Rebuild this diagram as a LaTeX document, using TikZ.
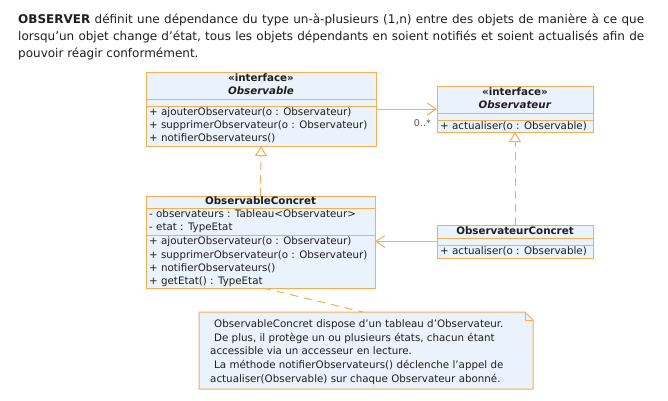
\documentclass[tikz,border=0pt]{standalone}
\usepackage{fontspec}
\setmainfont{DejaVu Sans}
\newfontfamily\hdrfont{DejaVu Sans}
\usetikzlibrary{arrows.meta,calc}
\definecolor{umlorange}{RGB}{247,172,86}
\definecolor{umlfill}{RGB}{234,243,251}
\definecolor{umltext}{RGB}{30,30,30}
\tikzset{
  umlbox/.style={draw=umlorange, fill=umlfill, line width=1pt, inner sep=0pt, outer sep=0pt, anchor=north west},
  sect/.style={draw=umlorange, line width=1pt},
  txt/.style={inner sep=0pt, font=\fontsize{10.3}{12}\selectfont, text=umltext, text height=7.5pt, text depth=2pt},
  hdr/.style={anchor=base west, inner sep=0pt, text=umltext, font=\hdrfont\fontsize{12}{17}\selectfont},
  assoc/.style={draw=umlorange, line width=1pt, -{Straight Barb[length=9pt,width=12pt,line width=1pt]}},
  realiz/.style={draw=umlorange, line width=1pt, dash pattern=on 8pt off 5pt, -{Triangle[open,length=10pt,width=12pt,line width=1pt,fill=white]}},
  notelink/.style={draw=umlorange, line width=1pt, dash pattern=on 8pt off 6pt},
}
\begin{document}
\begin{tikzpicture}[x=1pt,y=-1pt]
\useasboundingbox (0,0) rectangle (668,400);
% header paragraph
\node[hdr] (hdr1) at (18,23)
  {\makebox[626pt][s]{\textbf{OBSERVER} définit une dépendance du type un-à-plusieurs (1,n) entre des objets de manière à ce que}};
\node[hdr] (hdr2) at (18,40)
  {\makebox[626pt][s]{lorsqu’un objet change d’état, tous les objets dépendants en soient notifiés et soient actualisés afin de}};
\node[hdr] (hdr3) at (18,57)
  {pouvoir réagir conformément.};

% Observable
\node[umlbox, minimum width=230pt, minimum height=74pt] (obs) at (146,72) {};
\draw[sect] (146,99.5) -- (376,99.5);
\draw[sect] (146,106.5) -- (376,106.5);
\node[txt] (obs1) at (261,79) {\textbf{«interface»}};
\node[txt] (obs2) at (261,92) {\textbf{\textit{Observable}}};
\node[txt, anchor=west] (obsm1) at (149,113) {+ ajouterObservateur(o : Observateur)};
\node[txt, anchor=west] (obsm2) at (149,126) {+ supprimerObservateur(o : Observateur)};
\node[txt, anchor=west] (obsm3) at (149,139) {+ notifierObservateurs()};

% Observateur
\node[umlbox, minimum width=156pt, minimum height=46pt] (obsv) at (437,86) {};
\draw[sect] (437,113.5) -- (593,113.5);
\draw[sect] (437,120.5) -- (593,120.5);
\node[txt] (obsv1) at (515,92.5) {\textbf{«interface»}};
\node[txt] (obsv2) at (515,106) {\textbf{\textit{Observateur}}};
\node[txt, anchor=west] (obsvm1) at (440,126.5) {+ actualiser(o : Observable)};

% ObservableConcret
\node[umlbox, minimum width=229pt, minimum height=92pt] (obsc) at (146,196) {};
\draw[sect] (146,208) -- (375,208);
\draw[sect] (146,235) -- (375,235);
\node[txt] (obsc0) at (260.5,201.5) {\textbf{ObservableConcret}};
\node[txt, anchor=west] (obsca1) at (149,214.5) {- observateurs : Tableau<Observateur>};
\node[txt, anchor=west] (obsca2) at (149,228) {- etat : TypeEtat};
\node[txt, anchor=west] (obscm1) at (149,242) {+ ajouterObservateur(o : Observateur)};
\node[txt, anchor=west] (obscm2) at (149,255.5) {+ supprimerObservateur(o : Observateur)};
\node[txt, anchor=west] (obscm3) at (149,268.5) {+ notifierObservateurs()};
\node[txt, anchor=west] (obscm4) at (149,281.5) {+ getEtat() : TypeEtat};

% ObservateurConcret
\node[umlbox, minimum width=156pt, minimum height=33pt] (obsvc) at (437,225) {};
\draw[sect] (437,238) -- (593,238);
\draw[sect] (437,245) -- (593,245);
\node[txt] (obsvc0) at (515,231.5) {\textbf{ObservateurConcret}};
\node[txt, anchor=west] (obsvcm1) at (440,251.5) {+ actualiser(o : Observable)};

% Note
\draw[draw=umlorange, fill=umlfill, line width=1pt]
  (199,312) -- (525,312) -- (533,320) -- (533,389) -- (199,389) -- cycle;
\draw[draw=umlorange, line width=1pt] (525,312) -- (525,320) -- (533,320);
\node[txt, anchor=west] (n1) at (214,325) {ObservableConcret dispose d'un tableau d'Observateur.};
\node[txt, anchor=west] (n2) at (214,338.5) {De plus, il protège un ou plusieurs états, chacun étant};
\node[txt, anchor=west] (n3) at (210,352) {accessible via un accesseur en lecture.};
\node[txt, anchor=west] (n4) at (214,366) {La méthode notifierObservateurs() déclenche l'appel de};
\node[txt, anchor=west] (n5) at (210,379.5) {actualiser(Observable) sur chaque Observateur abonné.};
\coordinate (noteTop) at (363,312);
\coordinate (obscLink) at (263,288);

% Connectors
\draw[assoc] (obs.east) -- (obs.east -| obsv.west);
\node[inner sep=0pt, anchor=east, text=black!65, font=\fontsize{9.5}{11}\selectfont] (mult) at (431,123.5) {0..*};
\draw[assoc] (obsvc.west) -- (obsvc.west -| obsc.east);
\draw[realiz] (obsc.north) -- (obs.south);
\draw[realiz] (obsvc.north) -- (obsv.south);
\draw[notelink] (obscLink) -- (noteTop);
\end{tikzpicture}
\end{document}
